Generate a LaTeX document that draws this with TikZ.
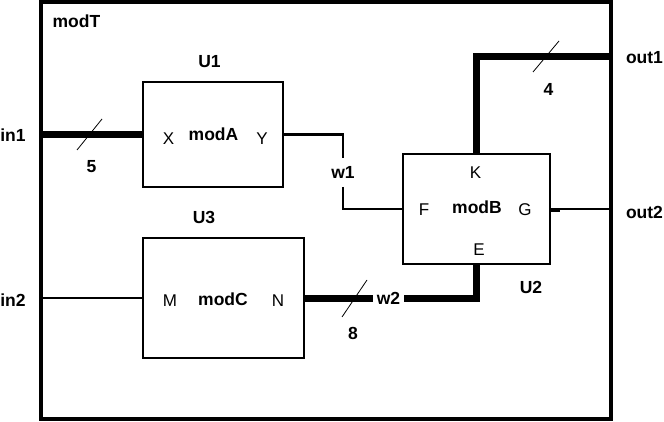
\documentclass[tikz,border=0pt]{standalone}
\usepackage{fontspec}
\setmainfont{Liberation Sans}
\begin{document}
\begin{tikzpicture}[x=1pt,y=-1pt,
  every node/.style={inner sep=0pt, outer sep=0pt},
  frame/.style={draw, line width=3.2pt, minimum width=570pt, minimum height=417pt},
  module/.style={draw, line width=2.6pt},
  wire/.style={line width=2.8pt},
  bus/.style={line width=7pt},
  tickmark/.style={line width=0.8pt},
  lbl/.style={font=\fontsize{17.5}{20}\selectfont\bfseries},
  portlbl/.style={font=\fontsize{17}{20}\selectfont}]
\useasboundingbox (0,0) rectangle (664,422);
% boxes
\node[frame] (T) at (326,210.5) {};
\node[module, minimum width=140pt, minimum height=105pt] (A) at (213,134.5) {};
\node[module, minimum width=147pt, minimum height=110pt] (B) at (476.5,209) {};
\node[module, minimum width=161pt, minimum height=120pt] (C) at (223.5,298) {};
% texts
\node[lbl] (tT) at (76.5,21.5) {modT};
\node[lbl] (tU1) at (209.5,62) {U1};
\node[lbl] (tA) at (213.5,134) {modA};
\node[portlbl] (pX) at (168.5,138.5) {X};
\node[portlbl] (pY) at (262,138.5) {Y};
\node[lbl] (l5) at (91.5,167) {5};
\node[lbl, anchor=west] (lin1) at (0.3,135) {in1};
\node[lbl, minimum height=29pt] (w1) at (343,172.5) {w1};
\node[lbl, anchor=west] (lin2) at (0.3,300) {in2};
\node[lbl] (tU3) at (204,217) {U3};
\node[portlbl] (pM) at (170,301) {M};
\node[lbl] (tC) at (223,299) {modC};
\node[portlbl] (pN) at (278,301) {N};
\node[lbl, minimum width=31pt] (w2) at (388.5,298) {w2};
\node[lbl] (l8) at (353,333.5) {8};
\node[portlbl] (pK) at (475.5,172.5) {K};
\node[portlbl] (pF) at (424,209.5) {F};
\node[lbl] (tB) at (477,207.5) {modB};
\node[portlbl] (pG) at (525,209.5) {G};
\node[portlbl] (pE) at (479,250) {E};
\node[lbl] (tU2) at (531,287.5) {U2};
\node[lbl] (lout1) at (644.5,57.5) {out1};
\node[lbl] (lout2) at (644.5,212) {out2};
\node[lbl] (l4) at (548.5,89) {4};
% connector ends on the frame
\coordinate (i1) at (T.west |- A.west);
\coordinate (i2) at (T.west |- C.west);
\coordinate (o1) at (611,57);
\coordinate (o2) at (T.east |- B.east);
% connectors
\draw[bus] (i1) -- (A.west);
\draw[wire] (A.east) -| (w1.north);
\draw[wire] (w1.south) |- (B.west);
\draw[wire] (i2) -- (C.west);
\draw[bus] (C.east) -- (w2.west);
\draw[bus] (w2.east) -| (B.south);
\draw[bus] (B.north) |- (o1);
\draw[wire] (B.east) -- (o2);
\draw[line width=4.5pt] ([yshift=-0.8pt]B.east) -- ++(10,0);
% bus width ticks
\draw[tickmark] (77,150) -- (102,119);
\draw[tickmark] (533,72) -- (559,41);
\draw[tickmark] (342,317) -- (367,280);
\end{tikzpicture}
\end{document}
